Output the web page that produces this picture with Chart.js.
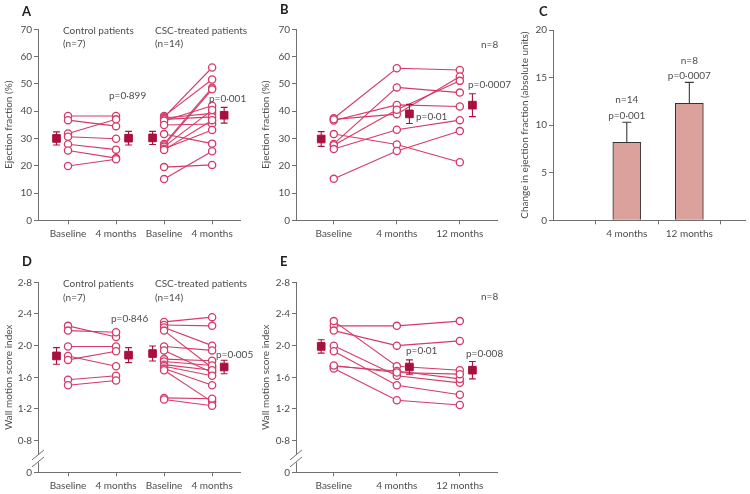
<!DOCTYPE html>
<html>
<head>
<meta charset="utf-8">
<script src="https://cdn.jsdelivr.net/npm/chart.js@4.4.1/dist/chart.umd.min.js"></script>
<style>
  body { margin: 0; background: #fff; }
  #page { position: relative; width: 750px; height: 494px; overflow: hidden; }
  .panel { position: absolute; }
</style>
</head>
<body>
<div id="page">
  <div class="panel" style="left:0;top:0;width:262px;height:250px"><canvas id="chartA"></canvas></div>
  <div class="panel" style="left:250px;top:0;width:290px;height:250px"><canvas id="chartB"></canvas></div>
  <div class="panel" style="left:515px;top:0;width:235px;height:250px"><canvas id="chartC"></canvas></div>
  <div class="panel" style="left:0;top:250px;width:262px;height:244px"><canvas id="chartD"></canvas></div>
  <div class="panel" style="left:250px;top:250px;width:290px;height:244px"><canvas id="chartE"></canvas></div>
</div>
<script>
/* globals Chart:false */

// ---- data ----
// A: ejection fraction (%), control vs CSC-treated, baseline -> 4 months
const efControlBase = [38.2, 36.7, 31.8, 30.6, 27.9, 25.6, 19.9]
const efControl4m = [38.2, 34.5, 37.0, 29.9, 25.9, 22.8, 22.4]
const efCscBase = [38.2, 37.8, 37.5, 37.0, 36.5, 34.9, 31.6, 28.0, 27.5, 27.0, 26.2, 25.8, 19.5, 15.1]
const efCsc4m = [51.6, 56.0, 39.2, 37.9, 42.0, 35.3, 28.1, 48.6, 48.0, 40.4, 33.1, 36.7, 20.3, 25.3]
const efGroupMeans = [30.0, 30.1, 30.2, 38.5]
const efGroupSem = [2.4, 2.5, 2.4, 2.9]

// B: ejection fraction (%), 8 patients with 12-month follow-up
const efBase8 = [37.4, 36.6, 37.0, 28.0, 27.5, 26.1, 31.6, 15.2]
const ef4m8 = [55.7, 42.3, 38.9, 48.7, 40.5, 33.2, 27.8, 25.4]
const ef12m8 = [55.1, 41.7, 52.7, 46.8, 51.1, 36.7, 21.3, 32.7]
const ef8Means = [29.8, 39.0, 42.2]
const ef8Sem = [2.7, 3.5, 4.2]

// C: change in ejection fraction
const changeLabels = ['4 months', '12 months']
const changeValues = [8.2, 12.3]
const changeSem = [2.1, 2.2]

// D: wall motion score index, control vs CSC-treated
const wmControlBase = [2.25, 2.19, 1.99, 1.87, 1.82, 1.57, 1.50]
const wmControl4m = [2.11, 2.17, 1.99, 1.74, 1.93, 1.62, 1.56]
const wmCscBase = [2.30, 2.26, 2.23, 2.19, 1.99, 1.94, 1.83, 1.80, 1.76, 1.74, 1.71, 1.69, 1.34, 1.32]
const wmCsc4m = [2.36, 2.25, 2.00, 1.72, 1.94, 1.66, 1.81, 1.75, 1.69, 1.62, 1.50, 1.29, 1.33, 1.24]
const wmGroupMeans = [1.87, 1.88, 1.90, 1.73]
const wmGroupSem = [0.105, 0.095, 0.095, 0.085]

// E: wall motion score index, 8 patients
const wmBase8 = [2.25, 2.19, 2.31, 2.00, 1.93, 1.74, 1.71, 1.75]
const wm4m8 = [2.25, 2.00, 1.74, 1.62, 1.50, 1.68, 1.31, 1.66]
const wm12m8 = [2.31, 2.06, 1.69, 1.53, 1.38, 1.58, 1.25, 1.64]
const wm8Means = [1.99, 1.73, 1.69]
const wm8Sem = [0.085, 0.09, 0.11]

// tick labels
const groupTicks = ['Baseline', '4 months', 'Baseline', '4 months']
const timeTicks = ['Baseline', '4 months', '12 months']
const efTicks = [0, 10, 20, 30, 40, 50, 60, 70]
const wmTicks = [0.4, 0.8, 1.2, 1.6, 2.0, 2.4, 2.8] // 0.4 is shown as the broken "0"

// ---- look ----
const PINK = '#d43a68'
const DARK = '#a9103c'
const AXIS = '#707070'
const TEXT = '#4d4d4d'
const FONT = 'Lato'

Chart.defaults.font.family = FONT
Chart.defaults.font.size = 10
Chart.defaults.color = TEXT
Chart.defaults.animation = false

const midDot = v => v.toFixed(1).replace('.', '·')

function patientSets (cols, xs) {
  const lines = []
  const pts = []
  for (let i = 0; i < cols[0].length; i++) {
    const d = cols.map((c, j) => ({ x: xs[j], y: c[i] }))
    lines.push({ data: d, borderColor: PINK, borderWidth: 1.1, pointRadius: 0, order: 3 })
    pts.push(...d)
  }
  lines.push({
    data: pts, showLine: false, pointRadius: 3.6, pointBorderWidth: 1.3,
    pointBackgroundColor: '#fff', pointBorderColor: PINK, order: 2
  })
  return lines
}

function meanSet (xs, means) {
  return {
    data: xs.map((x, i) => ({ x, y: means[i] })), showLine: false,
    pointStyle: 'rect', pointRadius: 5.4, pointBackgroundColor: DARK, pointBorderColor: DARK, order: 1
  }
}

// error bars, annotations, axis break
function extras (o) {
  return {
    id: 'extras',
    afterDatasetsDraw (chart) {
      const { ctx, scales: { x, y } } = chart
      ctx.save()
      if (o.err) {
        const e = o.err
        ctx.strokeStyle = e.color
        ctx.lineWidth = 1.1
        e.xs.forEach((xv, i) => {
          const px = x.getPixelForValue(xv)
          const hi = y.getPixelForValue(e.means[i] + e.sem[i])
          const lo = y.getPixelForValue(e.up ? e.means[i] : e.means[i] - e.sem[i])
          ctx.beginPath()
          ctx.moveTo(px, lo); ctx.lineTo(px, hi)
          ctx.moveTo(px - e.cap, hi); ctx.lineTo(px + e.cap, hi)
          if (!e.up) { ctx.moveTo(px - e.cap, lo); ctx.lineTo(px + e.cap, lo) }
          ctx.stroke()
        })
      }
      ctx.restore()
    },
    afterDraw (chart) {
      const { ctx, scales: { x, y } } = chart
      ctx.save()
      if (o.brk) {
        const ax = chart.chartArea.left
        const yc = y.getPixelForValue(0.6) + 2
        ctx.fillStyle = '#fff'
        ctx.fillRect(ax - 2, yc - 4, 4, 8)
        ctx.strokeStyle = AXIS
        ctx.lineWidth = 1
        for (const dy of [-3.5, 3.5]) {
          ctx.beginPath()
          ctx.moveTo(ax - 6, yc + dy + 5)
          ctx.lineTo(ax + 6, yc + dy - 5)
          ctx.stroke()
        }
      }
      for (const n of o.notes || []) {
        ctx.font = n.bold ? `bold 13px ${FONT}` : `10px ${FONT}`
        ctx.fillStyle = n.bold ? '#222' : TEXT
        ctx.textAlign = n.align || 'left'
        ctx.textBaseline = 'middle'
        const px = n.xv !== undefined ? x.getPixelForValue(n.xv) : n.x
        ctx.fillText(n.text, px, n.y)
      }
      ctx.restore()
    }
  }
}

function axes (o) {
  const grid = { display: true, drawOnChartArea: false, drawTicks: true, tickLength: 4, color: AXIS }
  const border = { display: true, color: AXIS, width: 1 }
  return {
    x: {
      type: 'linear', min: o.xmin, max: o.xmax, offset: false, grid, border,
      afterBuildTicks: s => { s.ticks = o.xpos.map(v => ({ value: v })) },
      ticks: { autoSkip: false, maxRotation: 0, padding: 3, callback: v => o.xlabels[o.xpos.indexOf(v)] },
      afterFit: s => { s.height = o.H - o.area.bottom }
    },
    y: {
      type: 'linear', min: o.ymin, max: o.ymax, grid, border,
      afterBuildTicks: s => { s.ticks = o.ypos.map(v => ({ value: v })) },
      ticks: { autoSkip: false, padding: 2, callback: o.yfmt || (v => v) },
      title: { display: true, text: o.title, color: TEXT, font: { size: 10 }, padding: { top: o.titlePad, bottom: 0 } },
      afterFit: s => { s.width = o.area.left }
    }
  }
}

function layout (o) {
  return { padding: { top: o.area.top, right: o.W - o.area.right, left: 0, bottom: 0 } }
}

function makePanel (id, o, datasets, plugin, type) {
  return new Chart(document.getElementById(id), {
    type: type || 'line',
    data: { datasets },
    options: {
      responsive: true,
      maintainAspectRatio: false,
      layout: layout(o),
      scales: axes(o),
      plugins: { legend: { display: false }, tooltip: { enabled: false } }
    },
    plugins: [plugin]
  })
}

// ---- A ----
const groupX = [1, 2, 3, 4]
const groupMeanX = [0.76, 2.26, 2.76, 4.25]
const optA = {
  W: 262, H: 250, area: { left: 38, right: 240, top: 29.3, bottom: 220.3 },
  xmin: 0.375, xmax: 4.58, xpos: groupX, xlabels: groupTicks,
  ymin: 0, ymax: 70, ypos: efTicks, title: 'Ejection fraction (%)', titlePad: 3
}
makePanel('chartA', optA, [
  ...patientSets([efControlBase, efControl4m], [1, 2]),
  ...patientSets([efCscBase, efCsc4m], [3, 4]),
  meanSet(groupMeanX, efGroupMeans)
], extras({
  err: { xs: groupMeanX, means: efGroupMeans, sem: efGroupSem, cap: 3.4, color: DARK },
  notes: [
    { text: 'A', x: 22, y: 12, bold: true },
    { text: 'Control patients', x: 63, y: 31 },
    { text: '(n=7)', x: 63, y: 44 },
    { text: 'CSC-treated patients', x: 155, y: 31 },
    { text: '(n=14)', x: 155, y: 44 },
    { text: 'p=0·899', x: 109, y: 96 },
    { text: 'p=0·001', x: 209, y: 99 }
  ]
}))

// ---- B ----
const timeX = [1, 2, 3]
const timeMeanX = [0.8, 2.2, 3.2]
const optB = {
  W: 290, H: 250, area: { left: 46, right: 247, top: 29.3, bottom: 220.3 },
  xmin: 0.4, xmax: 3.59, xpos: timeX, xlabels: timeTicks,
  ymin: 0, ymax: 70, ypos: efTicks, title: 'Ejection fraction (%)', titlePad: 10
}
makePanel('chartB', optB, [
  ...patientSets([efBase8, ef4m8, ef12m8], timeX),
  meanSet(timeMeanX, ef8Means)
], extras({
  err: { xs: timeMeanX, means: ef8Means, sem: ef8Sem, cap: 3.4, color: DARK },
  notes: [
    { text: 'B', x: 30, y: 10, bold: true },
    { text: 'n=8', x: 231, y: 45 },
    { text: 'p=0·01', x: 166, y: 117 },
    { text: 'p=0·0007', x: 218, y: 85 }
  ]
}))

// ---- C ----
const changeX = [2, 3]
const optC = {
  W: 235, H: 250, area: { left: 38, right: 230, top: 30, bottom: 220.3 },
  xmin: 0.82, xmax: 3.89, xpos: changeX, xlabels: changeLabels,
  ymin: 0, ymax: 20, ypos: [0, 5, 10, 15, 20],
  title: 'Change in ejection fraction (absolute units)', titlePad: 4
}
makePanel('chartC', optC, [{
  data: changeX.map((x, i) => ({ x, y: changeValues[i] })),
  backgroundColor: '#dba19c', borderColor: '#333', borderWidth: 1, barThickness: 28
}], extras({
  err: { xs: changeX, means: changeValues, sem: changeSem, cap: 4.5, color: '#3a3a3a', up: true },
  notes: [
    { text: 'C', x: 24, y: 12, bold: true },
    { text: 'n=14', xv: 2, y: 100, align: 'center' },
    { text: 'p=0·001', xv: 2, y: 116, align: 'center' },
    { text: 'n=8', xv: 3, y: 61, align: 'center' },
    { text: 'p=0·0007', xv: 3, y: 76, align: 'center' }
  ]
}), 'bar')

// ---- D ----
const wmFmt = v => (v === 0.4 ? '0' : midDot(v))
const optD = {
  W: 262, H: 244, area: { left: 38, right: 240, top: 32.3, bottom: 222.3 },
  xmin: 0.375, xmax: 4.58, xpos: groupX, xlabels: groupTicks,
  ymin: 0.4, ymax: 2.8, ypos: wmTicks, yfmt: wmFmt, title: 'Wall motion score index', titlePad: 3
}
makePanel('chartD', optD, [
  ...patientSets([wmControlBase, wmControl4m], [1, 2]),
  ...patientSets([wmCscBase, wmCsc4m], [3, 4]),
  meanSet(groupMeanX, wmGroupMeans)
], extras({
  brk: true,
  err: { xs: groupMeanX, means: wmGroupMeans, sem: wmGroupSem, cap: 3.4, color: DARK },
  notes: [
    { text: 'D', x: 22, y: 12, bold: true },
    { text: 'Control patients', x: 63, y: 34 },
    { text: '(n=7)', x: 63, y: 48 },
    { text: 'CSC-treated patients', x: 155, y: 34 },
    { text: '(n=14)', x: 155, y: 48 },
    { text: 'p=0·846', x: 111, y: 69 },
    { text: 'p=0·005', x: 216, y: 105 }
  ]
}))

// ---- E ----
const optE = {
  W: 290, H: 244, area: { left: 46, right: 247, top: 32.3, bottom: 222.3 },
  xmin: 0.4, xmax: 3.59, xpos: timeX, xlabels: timeTicks,
  ymin: 0.4, ymax: 2.8, ypos: wmTicks, yfmt: wmFmt, title: 'Wall motion score index', titlePad: 10
}
makePanel('chartE', optE, [
  ...patientSets([wmBase8, wm4m8, wm12m8], timeX),
  meanSet(timeMeanX, wm8Means)
], extras({
  brk: true,
  err: { xs: timeMeanX, means: wm8Means, sem: wm8Sem, cap: 3.4, color: DARK },
  notes: [
    { text: 'E', x: 30, y: 12, bold: true },
    { text: 'n=8', x: 231, y: 47 },
    { text: 'p=0·01', x: 156, y: 101 },
    { text: 'p=0·008', x: 216, y: 104 }
  ]
}))
</script>
</body>
</html>
